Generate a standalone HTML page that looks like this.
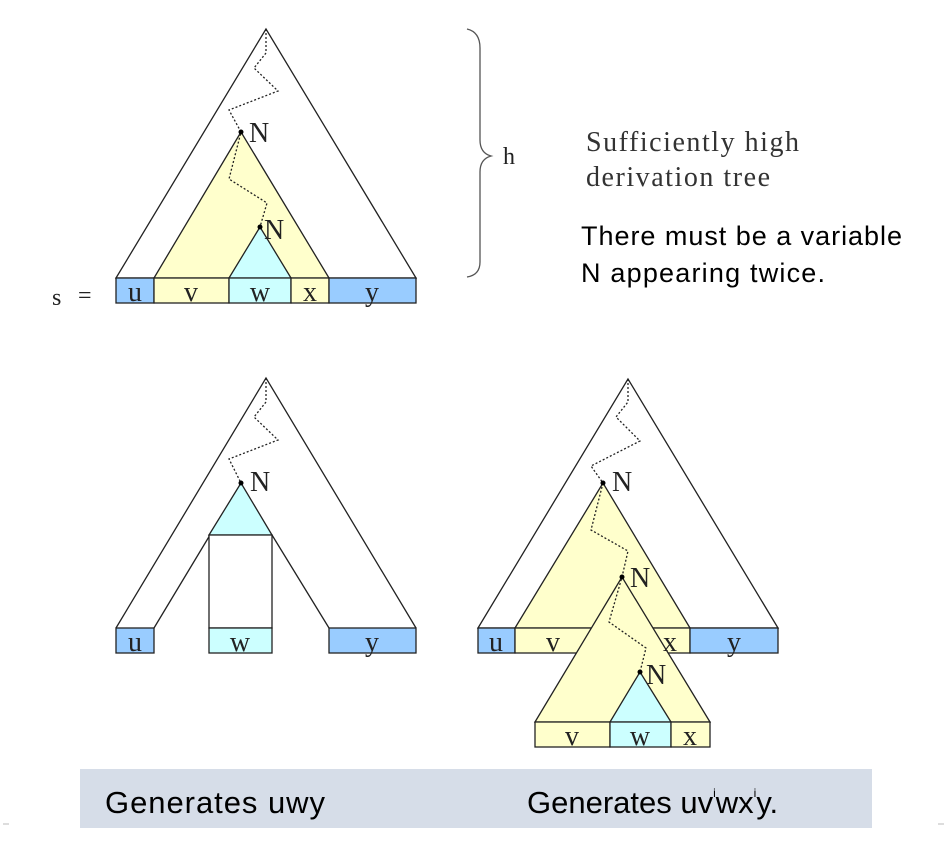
<!DOCTYPE html>
<html><head><style>
html,body{margin:0;padding:0;background:#fff;}
svg{display:block;}
.s{font-family:"Liberation Serif",serif;}
.a{font-family:"Liberation Sans",sans-serif;}
</style></head><body>
<svg width="948" height="865" viewBox="0 0 948 865" xmlns="http://www.w3.org/2000/svg">
<g stroke="#222" stroke-width="1.3" fill="none">
<polygon points="266,29 116,278 416,278" fill="#fff"/>
<polygon points="241,132 154,278 329,278" fill="#ffffcc"/>
<polygon points="260,227 229,278 291,278" fill="#ccffff"/>
<rect x="116" y="278" width="38" height="25" fill="#99ccff"/>
<rect x="154" y="278" width="75" height="25" fill="#ffffcc"/>
<rect x="229" y="278" width="62" height="25" fill="#ccffff"/>
<rect x="291" y="278" width="38" height="25" fill="#ffffcc"/>
<rect x="329" y="278" width="87" height="25" fill="#99ccff"/>
<polyline points="266,29 266,53 254,68 278,91 229,110 241,132 229,179 267,203 260,227" stroke-dasharray="2,2"/>
<polyline points="116,628 266,378 416,628" />
<line x1="154" y1="628" x2="210" y2="535"/>
<line x1="329" y1="628" x2="272" y2="535"/>
<polygon points="241,483 209,535 272,535" fill="#ccffff"/>
<rect x="209" y="535" width="63" height="93" fill="#fff"/>
<rect x="116" y="628" width="38" height="25" fill="#99ccff"/>
<rect x="209" y="628" width="63" height="25" fill="#ccffff"/>
<rect x="329" y="628" width="87" height="25" fill="#99ccff"/>
<polyline points="266,378 266,402 254,417 278,440 229,459 241,483" stroke-dasharray="2,2"/>
<polygon points="628,379 478,628 778,628" fill="#fff"/>
<polygon points="603,483 515,628 690,628" fill="#ffffcc"/>
<rect x="478" y="628" width="37" height="25" fill="#99ccff"/>
<rect x="515" y="628" width="100" height="25" fill="#ffffcc"/>
<rect x="615" y="628" width="75" height="25" fill="#ffffcc"/>
<rect x="690" y="628" width="88" height="25" fill="#99ccff"/>
<polygon points="622,577 535,722 710,722" fill="#ffffcc"/>
<polygon points="640,672 610,722 671,722" fill="#ccffff"/>
<rect x="535" y="722" width="75" height="25" fill="#ffffcc"/>
<rect x="610" y="722" width="61" height="25" fill="#ccffff"/>
<rect x="671" y="722" width="39" height="25" fill="#ffffcc"/>
<polyline points="628,379 628,402 616,417 640,441 591,466 603,483 591,530 628,551 622,577 609,622 646,648 640,672" stroke-dasharray="2,2"/>
<path d="M467,29 Q480,32 480,48 L480,140 Q480,153 491,156 Q480,159 480,172 L480,262 Q480,275 467,277" stroke="#555"/>
</g>
<g fill="#000">
<circle cx="241" cy="132" r="2.5"/><circle cx="260" cy="227" r="2.5"/>
<circle cx="241" cy="483" r="2.5"/>
<circle cx="603" cy="483" r="2.5"/><circle cx="622" cy="577" r="2.5"/><circle cx="640" cy="672" r="2.5"/>
</g>
<g class="s" font-size="28" fill="#222">
<text x="249" y="142">N</text><text x="264" y="239">N</text>
<text x="250" y="491">N</text>
<text x="612" y="491">N</text><text x="630" y="587">N</text><text x="646" y="684">N</text>
<text x="52" y="305" font-size="24">s</text><text x="78" y="303" font-size="24">=</text>
<g text-anchor="middle" font-size="28">
<text x="135" y="301">u</text><text x="191" y="301">v</text><text x="260" y="301">w</text><text x="310" y="301">x</text><text x="372" y="301">y</text>
<text x="135" y="651">u</text><text x="240" y="651">w</text><text x="372" y="651">y</text>
<text x="496" y="651">u</text><text x="553" y="651">v</text><text x="670" y="651">x</text><text x="734" y="651">y</text>
<text x="572" y="745">v</text><text x="640" y="745">w</text><text x="690" y="745">x</text>
</g>
<text x="503" y="164" font-size="24">h</text>
<text x="586" y="151" font-size="28" fill="#333" textLength="213">Sufficiently high</text>
<text x="586" y="186" font-size="28" fill="#333" textLength="184">derivation tree</text>
</g>
<g class="a" font-size="27" fill="#000">
<text x="581" y="245" textLength="321">There must be a variable</text>
<text x="581" y="282" textLength="244">N appearing twice.</text>
</g>
<rect x="80" y="769" width="792" height="59" fill="#d6dde8"/>
<g class="a" font-size="31" fill="#000">
<text x="105" y="813" textLength="220">Generates uwy</text>
<text x="527" y="813">Generates uv<tspan font-size="12" dy="-16">i</tspan><tspan dy="16">wx</tspan><tspan font-size="12" dy="-16">i</tspan><tspan dy="16">y.</tspan></text>
</g>
<g stroke="#bbb"><line x1="3" y1="824" x2="9" y2="824"/><line x1="938" y1="824" x2="944" y2="824"/></g>
</svg>
</body></html>
